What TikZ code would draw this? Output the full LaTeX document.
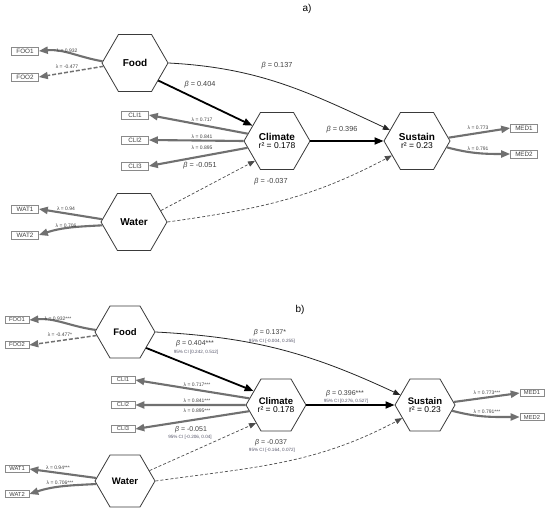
\documentclass[tikz,border=0pt]{standalone}
\usepackage{fontspec}
\setmainfont{Liberation Sans}
\usetikzlibrary{shapes.geometric,arrows.meta}
\definecolor{indgray}{HTML}{707070}
\definecolor{hexline}{HTML}{3A3A3A}
\definecolor{txtgray}{HTML}{404040}
\definecolor{cigray}{HTML}{55556A}
\definecolor{boxgray}{HTML}{8A8A8A}
\newcommand{\rsq}[1]{{\mdseries\fontsize{8.5}{8.5}\selectfont r² = #1}}
\begin{document}
\begin{tikzpicture}[x=1pt,y=-1pt,
  hexa/.style={regular polygon, regular polygon sides=6, draw=hexline, line width=0.8pt,
    minimum size=66pt, inner sep=0pt, align=center, fill=white,
    font=\fontsize{10}{10}\selectfont\bfseries},
  hexb/.style={hexa, minimum size=60pt, font=\fontsize{9.5}{9.5}\selectfont\bfseries},
  boxa/.style={draw=boxgray, line width=0.6pt, fill=white, inner sep=0.5pt,
    minimum width=27pt, minimum height=8pt, font=\fontsize{6.3}{6.3}\selectfont, text=txtgray},
  boxb/.style={boxa, minimum width=24pt, minimum height=7pt, font=\fontsize{5.8}{5.8}\selectfont},
  ind/.style={draw=indgray, line width=2.1pt, -{Triangle[length=9pt,width=7pt]}},
  inddash/.style={ind, line width=1.5pt, dash pattern=on 4pt off 2pt},
  strong/.style={draw=black, line width=1.8pt, -{Triangle[length=9pt,width=7pt]}},
  thinp/.style={draw=black!85, line width=0.8pt, -{Triangle[length=7pt,width=5.5pt]}},
  weak/.style={draw=black!70, line width=0.7pt, dash pattern=on 3pt off 2pt, -{Triangle[length=7pt,width=5.5pt]}},
  lam/.style={font=\fontsize{5}{5}\selectfont, text=txtgray, inner sep=0.3pt},
  bet/.style={font=\fontsize{7.3}{7.3}\selectfont, text=txtgray, inner sep=0.3pt},
  betb/.style={font=\fontsize{7}{7}\selectfont, text=txtgray, inner sep=0.3pt},
  ci/.style={font=\fontsize{4.6}{4.6}\selectfont, text=cigray, inner sep=0.3pt},
  panel/.style={font=\fontsize{10}{10}\selectfont, text=black}
]
\fill[white] (0,0) rectangle (550,516);
\useasboundingbox (0,0) rectangle (550,516);

% ---------------- panel a ----------------
\node[panel] (pa) at (307,9) {a)};
\node[hexa] (fa) at (135,63) {Food};
\node[hexa] (ca) at (277,141) {Climate\\[-1.5pt]\rsq{0.178}};
\node[hexa] (sa) at (417,141) {Sustain\\[-1.5pt]\rsq{0.23}};
\node[hexa] (wa) at (134,222) {Water};

\node[boxa] (foo1a) at (25,51) {FOO1};
\node[boxa] (foo2a) at (25,77) {FOO2};
\node[boxa] (cli1a) at (135,115) {CLI1};
\node[boxa] (cli2a) at (135,140) {CLI2};
\node[boxa] (cli3a) at (135,166) {CLI3};
\node[boxa] (wat1a) at (25,209) {WAT1};
\node[boxa] (wat2a) at (25,235) {WAT2};
\node[boxa] (med1a) at (524,128) {MED1};
\node[boxa] (med2a) at (524,154) {MED2};

\draw[ind] (fa.177) to[out=170,in=5] (foo1a.east);
\draw[inddash] (fa.186) -- (foo2a.east);
\draw[ind] (ca.166) -- (cli1a.east);
\draw[ind] (ca.180) -- (cli2a.east);
\draw[ind] (ca.193) -- (cli3a.east);
\draw[ind] (wa.175) -- (wat1a.east);
\draw[ind] (wa.186) to[out=183,in=18] (wat2a.east);
\draw[ind] (sa.6) -- (med1a.west);
\draw[ind] (sa.-12) to[out=-15,in=180] (med2a.west);

\draw[strong] (fa.-37) -- (ca.148);
\draw[strong] (ca.east) -- (sa.west);
\draw[thinp] (fa.east) to[out=-3,in=155] (sa.158);
\draw[weak] (wa.23) -- (ca.222);
\draw[weak] (wa.east) to[out=8,in=208] (sa.210);

\node[lam] (la1) at (67,51) {λ = 0.932};
\node[lam] (la2) at (67,67) {λ = -0.477};
\node[lam] (la3) at (202,120) {λ = 0.717};
\node[lam] (la4) at (202,137) {λ = 0.841};
\node[lam] (la5) at (202,148) {λ = 0.895};
\node[lam] (la6) at (66,208.5) {λ = 0.94};
\node[lam] (la7) at (66,225.5) {λ = 0.706};
\node[lam] (la8) at (478,128) {λ = 0.773};
\node[lam] (la9) at (478,149) {λ = 0.791};
\node[bet] (ba1) at (200,85) {\textit{β} = 0.404};
\node[bet] (ba2) at (277,66) {\textit{β} = 0.137};
\node[bet] (ba3) at (342,130) {\textit{β} = 0.396};
\node[bet] (ba4) at (200,166) {\textit{β} = -0.051};
\node[bet] (ba5) at (271,182) {\textit{β} = -0.037};

% ---------------- panel b ----------------
\node[panel] (pb) at (300,310) {b)};
\node[hexb] (fb) at (125,332) {Food};
\node[hexb] (cb) at (276,405) {Climate\\[-1.5pt]\rsq{0.178}};
\node[hexb] (sb) at (425,405) {Sustain\\[-1.5pt]\rsq{0.23}};
\node[hexb] (wb) at (125,481) {Water};

\node[boxb] (foo1b) at (17,320) {FOO1};
\node[boxb] (foo2b) at (17,345) {FOO2};
\node[boxb] (cli1b) at (123,380) {CLI1};
\node[boxb] (cli2b) at (123,405) {CLI2};
\node[boxb] (cli3b) at (123,429) {CLI3};
\node[boxb] (wat1b) at (17,469) {WAT1};
\node[boxb] (wat2b) at (17,494) {WAT2};
\node[boxb] (med1b) at (532,393) {MED1};
\node[boxb] (med2b) at (532,417) {MED2};

\draw[ind] (fb.176) to[out=172,in=5] (foo1b.east);
\draw[inddash] (fb.187) -- (foo2b.east);
\draw[ind] (cb.166) -- (cli1b.east);
\draw[ind] (cb.180) -- (cli2b.east);
\draw[ind] (cb.193) -- (cli3b.east);
\draw[ind] (wb.174) -- (wat1b.east);
\draw[ind] (wb.186) to[out=183,in=18] (wat2b.east);
\draw[ind] (sb.6) -- (med1b.west);
\draw[ind] (sb.-12) to[out=-15,in=180] (med2b.west);

\draw[strong] (fb.-37) -- (cb.148);
\draw[strong] (cb.east) -- (sb.west);
\draw[thinp] (fb.east) to[out=-3,in=155] (sb.158);
\draw[weak] (wb.23) -- (cb.222);
\draw[weak] (wb.east) to[out=8,in=208] (sb.210);

\node[lam] (lb1) at (58,319) {λ = 0.932***};
\node[lam] (lb2) at (60,335) {λ = -0.477*};
\node[lam] (lb3) at (197,385) {λ = 0.717***};
\node[lam] (lb4) at (197,401) {λ = 0.841***};
\node[lam] (lb5) at (197,411) {λ = 0.895***};
\node[lam] (lb6) at (58,467.5) {λ = 0.94***};
\node[lam] (lb7) at (60,482.5) {λ = 0.706***};
\node[lam] (lb8) at (487,393) {λ = 0.773***};
\node[lam] (lb9) at (487,412) {λ = 0.791***};
\node[betb] (bb1) at (195,344) {\textit{β} = 0.404***};
\node[ci] (cb1) at (196,352) {95\% CI [0.242, 0.512]};
\node[betb] (bb2) at (270,333) {\textit{β} = 0.137*};
\node[ci] (cb2) at (272,341) {95\% CI [-0.004, 0.255]};
\node[betb] (bb3) at (345,394) {\textit{β} = 0.396***};
\node[ci] (cb3) at (346,401) {95\% CI [0.276, 0.527]};
\node[betb] (bb4) at (191,430) {\textit{β} = -0.051};
\node[ci] (cb4) at (190,437) {95\% CI [-0.206, 0.04]};
\node[betb] (bb5) at (271,443) {\textit{β} = -0.037};
\node[ci] (cb5) at (272,450) {95\% CI [-0.164, 0.072]};
\end{tikzpicture}
\end{document}
